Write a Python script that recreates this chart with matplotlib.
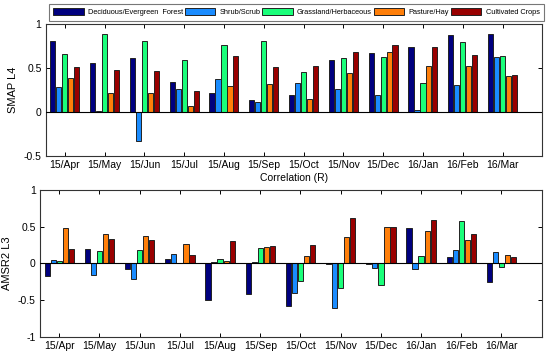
import numpy as np
import matplotlib
matplotlib.use("Agg")
import matplotlib.pyplot as plt

plt.rcParams['font.family'] = ['Liberation Sans', 'DejaVu Sans']

months = ['15/Apr', '15/May', '15/Jun', '15/Jul', '15/Aug', '15/Sep',
          '15/Oct', '15/Nov', '15/Dec', '16/Jan', '16/Feb', '16/Mar']
classes = ['Deciduous/Evergreen  Forest', 'Shrub/Scrub', 'Grassland/Herbaceous',
           'Pasture/Hay', 'Cultivated Crops']
colors = ['#00007f', '#1a8cff', '#1aff7a', '#ff7f0a', '#990000']

# SMAP L4 correlation per land cover class
smap_forest = [0.81, 0.55, 0.61, 0.34, 0.21, 0.13, 0.195, 0.59, 0.67, 0.737, 0.87, 0.88]
smap_shrub = [0.28, 0.01, -0.33, 0.255, 0.37, 0.11, 0.33, 0.255, 0.195, 0.026, 0.31, 0.62]
smap_grass = [0.66, 0.88, 0.80, 0.59, 0.755, 0.80, 0.45, 0.61, 0.625, 0.33, 0.79, 0.64]
smap_pasture = [0.38, 0.22, 0.21, 0.07, 0.29, 0.32, 0.15, 0.44, 0.675, 0.52, 0.52, 0.41]
smap_crops = [0.515, 0.47, 0.46, 0.24, 0.63, 0.515, 0.52, 0.685, 0.755, 0.737, 0.65, 0.42]

# AMSR2 L3 correlation per land cover class
amsr_forest = [-0.17, 0.19, -0.08, 0.06, -0.505, -0.42, -0.575, -0.01, -0.01, 0.48, 0.08, -0.26]
amsr_shrub = [0.04, -0.165, -0.22, 0.13, 0.02, 0.02, -0.41, -0.605, -0.07, -0.08, 0.18, 0.15]
amsr_grass = [0.03, 0.165, 0.18, 0.0, 0.06, 0.205, -0.245, -0.34, -0.295, 0.105, 0.58, -0.045]
amsr_pasture = [0.48, 0.395, 0.37, 0.265, 0.03, 0.22, 0.105, 0.36, 0.50, 0.44, 0.315, 0.115]
amsr_crops = [0.19, 0.335, 0.31, 0.115, 0.305, 0.235, 0.255, 0.61, 0.50, 0.595, 0.40, 0.09]

smap = [smap_forest, smap_shrub, smap_grass, smap_pasture, smap_crops]
amsr = [amsr_forest, amsr_shrub, amsr_grass, amsr_pasture, amsr_crops]

fig = plt.figure(figsize=(5.5, 3.55), dpi=100)
ax1 = fig.add_axes([0.0831, 0.5606, 0.9029, 0.3724])
ax2 = fig.add_axes([0.0727, 0.0515, 0.9122, 0.4138])

x = np.arange(1, len(months) + 1)


def draw(ax, data, ylim, yticks, ylabels, ylabel):
    for j, vals in enumerate(data):
        ax.bar(x + (j - 2) * 0.15, vals, width=0.13, color=colors[j],
               edgecolor='#222222', linewidth=0.7, label=classes[j], zorder=2)
    ax.axhline(0, color='black', lw=0.8, zorder=3)
    ax.set_xlim(0.52, 13.0)
    ax.set_ylim(*ylim)
    ax.set_xticks(x)
    ax.set_xticklabels(months)
    ax.set_yticks(yticks)
    ax.set_yticklabels(ylabels)
    ax.tick_params(direction='in', top=True, right=True, length=3,
                   labelsize=7.5, pad=3, width=0.7)
    ax.set_ylabel(ylabel, fontsize=8, labelpad=4)
    for s in ax.spines.values():
        s.set_linewidth(0.8)
        s.set_color('#333333')


draw(ax1, smap, (-0.5, 1), [-0.5, 0, 0.5, 1], ['-0.5', '0', '0.5', '1'], 'SMAP L4')
draw(ax2, amsr, (-1, 1), [-1, -0.5, 0, 0.5, 1], ['-1', '-0.5', '0', '0.5', '1'], 'AMSR2 L3')
ax1.set_xlabel('Correlation (R)', fontsize=7.5, labelpad=2)

handles, labels = ax1.get_legend_handles_labels()
leg = fig.legend(handles, labels, loc='lower left', ncol=5, mode='expand',
                 bbox_to_anchor=(0.089, 0.942, 0.9, 0.043), fontsize=5.3,
                 handlelength=4.1, handleheight=1.0, borderaxespad=0,
                 fancybox=False, columnspacing=1.0, handletextpad=0.6,
                 borderpad=0.6)
leg.get_frame().set_edgecolor('#555555')
leg.get_frame().set_linewidth(0.8)

fig.savefig('out.png', dpi=100)
